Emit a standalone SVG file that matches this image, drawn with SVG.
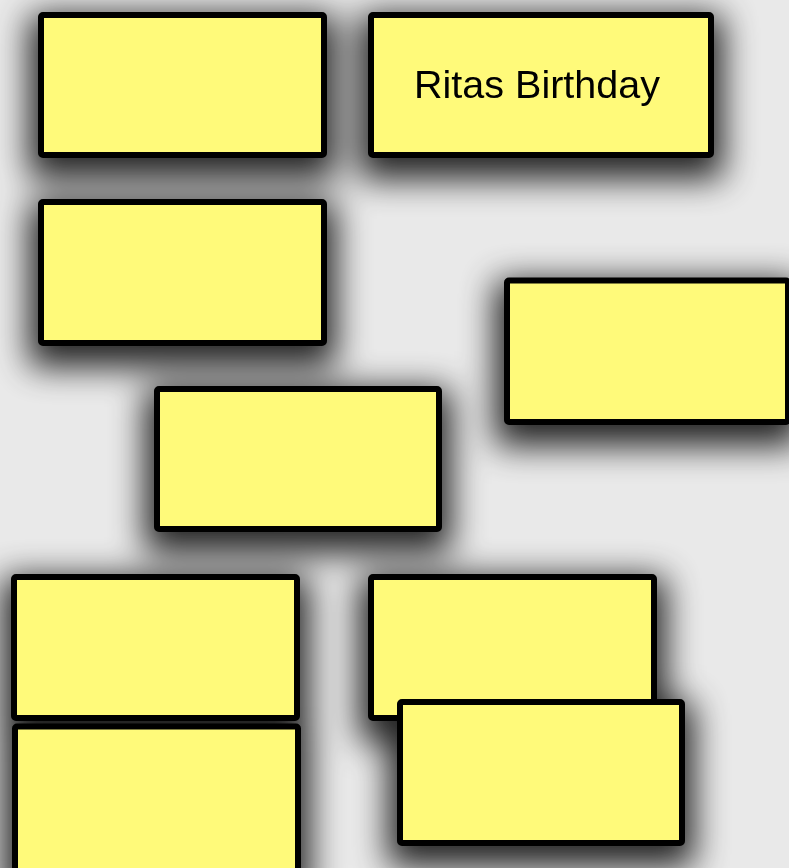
<svg xmlns="http://www.w3.org/2000/svg" width="789" height="868" viewBox="0 0 789 868">
<defs>
<filter id="sh" filterUnits="userSpaceOnUse" x="-100" y="-100" width="1000" height="1100">
<feMorphology in="SourceAlpha" operator="dilate" radius="9" result="d"/>
<feOffset in="d" dx="0" dy="12" result="o"/>
<feGaussianBlur in="o" stdDeviation="17" result="b"/>
<feComponentTransfer in="b" result="s"><feFuncA type="linear" slope="0.85"/></feComponentTransfer>
<feMerge><feMergeNode in="s"/><feMergeNode in="SourceGraphic"/></feMerge>
</filter>
</defs>
<style>
.n rect{fill:#fffa7a;stroke:#000;stroke-width:6}
.t{font-family:"Liberation Sans",Arial,sans-serif;font-size:39.5px;fill:#000}
</style>
<rect width="789" height="868" fill="#e9e9e9"/>
<g id="nodes" filter="url(#sh)">
<g id="node1" class="n"><rect x="41" y="15" width="283" height="140" rx="2"/></g>
<g id="node2" class="n"><rect x="371" y="15" width="340" height="140" rx="2"/><text class="t" x="537" y="98" text-anchor="middle">Ritas Birthday</text></g>
<g id="node3" class="n"><rect x="41" y="202" width="283" height="141" rx="2"/></g>
<g id="node4" class="n"><rect x="507" y="280.5" width="281" height="141.5" rx="2"/></g>
<g id="node5" class="n"><rect x="157" y="389" width="282" height="140" rx="2"/></g>
<g id="node6" class="n"><rect x="14" y="577" width="283" height="141" rx="2"/></g>
<g id="node7" class="n"><rect x="371" y="577" width="283" height="141" rx="2"/></g>
<g id="node9" class="n"><rect x="15" y="726.5" width="283" height="150" rx="2"/></g>
<g id="node8" class="n"><rect x="400" y="702" width="282" height="141" rx="2"/></g>
</g>
<g id="connectors"></g>
</svg>
